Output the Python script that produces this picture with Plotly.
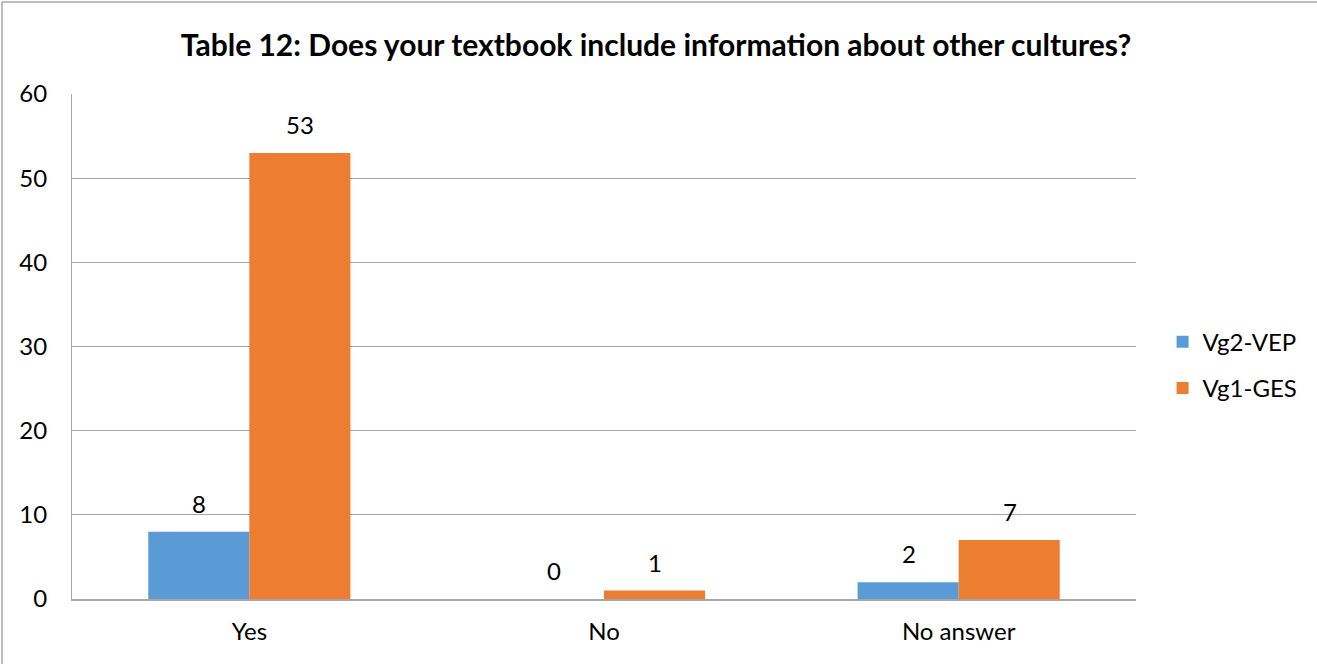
import plotly.graph_objects as go

categories = ["Yes", "No", "No answer"]
vep = [8, 0, 2]
ges = [53, 1, 7]
series_names = ["Vg2-VEP", "Vg1-GES"]
colors = ["#5b9bd5", "#ed7d31"]
y_ticks = [0, 10, 20, 30, 40, 50, 60]

FONT = "Lato, Carlito, Calibri, sans-serif"
TXT = 24

fig = go.Figure()
for name, vals, col in zip(series_names, [vep, ges], colors):
    fig.add_trace(go.Bar(
        x=categories, y=vals, name=name, legendgroup=name,
        marker=dict(color=col, line=dict(width=0)),
    ))

# value labels above each bar
for i, vals in enumerate([vep, ges]):
    for j, v in enumerate(vals):
        fig.add_annotation(
            x=categories[j], y=v, text=str(v), showarrow=False,
            xref="x", yref="y", yanchor="bottom", yshift=12,
            xshift=(-50 if i == 0 else 51),
            font=dict(family=FONT, size=TXT, color="#000"),
        )

# outer chart frame: only the left and top edges lie inside the canvas
W, H = 1317, 664
L, R, T, B = 72, 181, 94, 65
pw, ph = W - L - R, H - T - B
fx0 = (2 - L) / pw
fx1 = (W + 10 - L) / pw
fy_top = (H - 2 - B) / ph
fy_bot = -(H + 10 - T - ph) / ph
frame = dict(color="#a6a6a6", width=1.5)
fig.add_shape(type="line", xref="paper", yref="paper",
              x0=fx0, x1=fx0, y0=fy_bot, y1=fy_top, line=frame, layer="below")
fig.add_shape(type="line", xref="paper", yref="paper",
              x0=fx0, x1=fx1, y0=fy_top, y1=fy_top, line=frame, layer="below")

fig.update_layout(
    width=W, height=H,
    margin=dict(l=L, r=R, t=T, b=B),
    paper_bgcolor="white", plot_bgcolor="white",
    barmode="group", bargap=0.43, bargroupgap=0,
    title=dict(
        text="<b>Table 12: Does your textbook include information about other cultures?</b>",
        x=656 / W, xanchor="center", y=1 - 45 / H, yanchor="middle",
        font=dict(family=FONT, size=30, color="#000"),
    ),
    font=dict(family=FONT, size=TXT, color="#000"),
    legend=dict(
        x=1.025, xanchor="left", y=0.463, yanchor="middle",
        font=dict(family=FONT, size=TXT, color="#000"),
        itemwidth=30, tracegroupgap=12,
    ),
    xaxis=dict(
        showline=True, linecolor="#a6a6a6", linewidth=1.5,
        ticks="", showgrid=False, tickfont=dict(size=TXT), ticklabelstandoff=10,
    ),
    yaxis=dict(
        range=[0, 60], tickvals=y_ticks, showgrid=True, gridcolor="#a6a6a6", gridwidth=1,
        showline=True, linecolor="#a6a6a6", linewidth=1, zeroline=False,
        ticks="", ticklabelstandoff=19, tickfont=dict(size=TXT),
    ),
)

fig.write_html("out.html")
